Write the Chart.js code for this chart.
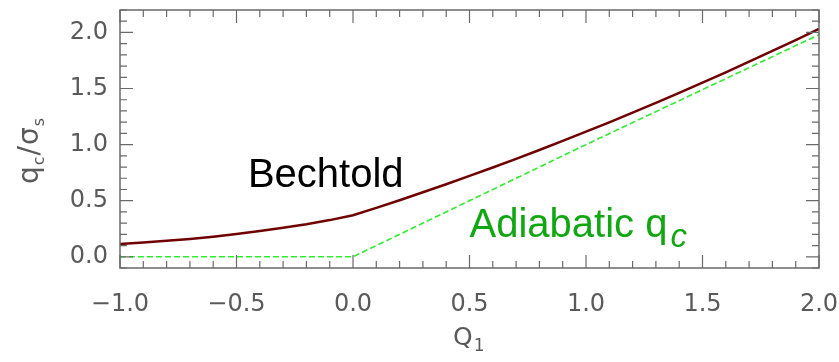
<!DOCTYPE html>
<html lang="en">
<head>
    <meta charset="UTF-8">
    <title>Bechtold vs adiabatic q_c</title>
    <script src="https://cdn.jsdelivr.net/npm/chart.js@4"></script>
    <style>
        html, body { margin: 0; padding: 0; background: #fff; }
        #wrap { width: 839px; height: 362px; }
    </style>
</head>
<body>
    <div id="wrap"><canvas id="qcChart" width="839" height="362"></canvas></div>

    <script>
        // Q1 values and curves
        const q1Values = [-1.0, -0.9, -0.8, -0.7, -0.6, -0.5, -0.4, -0.3, -0.2, -0.1,
                          0.0, 0.1, 0.2, 0.3, 0.4, 0.5, 0.6, 0.7, 0.8, 0.9,
                          1.0, 1.1, 1.2, 1.3, 1.4, 1.5, 1.6, 1.7, 1.8, 1.9, 2.0];
        const bechtoldValues = [0.115, 0.127, 0.142, 0.159, 0.179, 0.203, 0.229, 0.258, 0.290, 0.327,
                                0.370, 0.436, 0.504, 0.575, 0.647, 0.721, 0.796, 0.873, 0.952, 1.033,
                                1.115, 1.199, 1.285, 1.372, 1.461, 1.552, 1.644, 1.739, 1.835, 1.932, 2.032];
        const adiabaticQ1 = [-1.0, 0.0, 1.0, 2.0];
        const adiabaticValues = [0.0, 0.0, 1.0, 1.98];

        const xTickValues = [-1.0, -0.5, 0.0, 0.5, 1.0, 1.5, 2.0];
        const yTickValues = [0.0, 0.5, 1.0, 1.5, 2.0];

        const axisGray = '#5a5a5a';
        const tickFont = { family: 'DejaVu Sans', size: 24 };

        function fmt(v) {
            return v.toFixed(1).replace('-', '\u2212');
        }

        // inward ticks on all four sides, frame, axis titles and annotations
        const decorations = {
            id: 'decorations',
            afterDraw(chart) {
                const { ctx, chartArea: a, scales: { x, y } } = chart;
                ctx.save();
                ctx.strokeStyle = '#6a6a6a';
                ctx.lineWidth = 1.5;
                ctx.strokeRect(a.left, a.top, a.right - a.left, a.bottom - a.top);

                ctx.lineWidth = 1.2;
                ctx.beginPath();
                for (let i = -10; i <= 20; i++) {
                    const px = x.getPixelForValue(i / 10);
                    const len = i % 5 === 0 ? 13 : 7;
                    ctx.moveTo(px, a.bottom); ctx.lineTo(px, a.bottom - len);
                    ctx.moveTo(px, a.top); ctx.lineTo(px, a.top + len);
                }
                for (let i = -1; i <= 22; i++) {
                    const py = y.getPixelForValue(i / 10);
                    const len = i % 5 === 0 ? 13 : 7;
                    ctx.moveTo(a.left, py); ctx.lineTo(a.left + len, py);
                    ctx.moveTo(a.right, py); ctx.lineTo(a.right - len, py);
                }
                ctx.stroke();

                // y title: q_c / sigma_s
                ctx.fillStyle = axisGray;
                ctx.textBaseline = 'alphabetic';
                ctx.translate(38, 184);
                ctx.rotate(-Math.PI / 2);
                let cx = 0;
                const part = (txt, size, dy) => {
                    ctx.font = size + 'px "DejaVu Sans"';
                    ctx.fillText(txt, cx, dy);
                    cx += ctx.measureText(txt).width + 1;
                };
                part('q', 28, 0);
                part('c', 16, 6);
                part('/', 28, 0);
                part('\u03c3', 28, 0);
                part('s', 16, 6);
                ctx.setTransform(1, 0, 0, 1, 0, 0);

                // x title: Q_1
                cx = 453;
                const partX = (txt, size, dy) => {
                    ctx.font = size + 'px "DejaVu Sans"';
                    ctx.fillText(txt, cx, 345 + dy);
                    cx += ctx.measureText(txt).width + 1;
                };
                partX('Q', 25, 0);
                partX('1', 17, 6);

                // curve labels
                ctx.fillStyle = '#000';
                ctx.font = '40px "Liberation Sans"';
                ctx.fillText('Bechtold', x.getPixelForValue(-0.451), y.getPixelForValue(0.625));

                ctx.fillStyle = '#10a810';
                const ax = x.getPixelForValue(0.5), ay = y.getPixelForValue(0.18);
                ctx.fillText('Adiabatic q', ax, ay);
                const w = ctx.measureText('Adiabatic q').width;
                ctx.font = 'italic 33px "Liberation Sans"';
                ctx.fillText('c', ax + w + 3, ay + 10);
                ctx.restore();
            }
        };

        new Chart(document.getElementById('qcChart'), {
            type: 'line',
            data: {
                datasets: [
                    {
                        label: 'Bechtold',
                        data: q1Values.map((q, i) => ({ x: q, y: bechtoldValues[i] })),
                        borderColor: '#700000',
                        borderWidth: 2.5,
                        pointRadius: 0,
                        tension: 0,
                        fill: false,
                    },
                    {
                        label: 'Adiabatic',
                        data: adiabaticQ1.map((q, i) => ({ x: q, y: adiabaticValues[i] })),
                        borderColor: '#2cf02c',
                        borderWidth: 1.6,
                        borderDash: [6, 3],
                        pointRadius: 0,
                        tension: 0,
                        fill: false,
                    }
                ]
            },
            options: {
                responsive: false,
                animation: false,
                layout: { padding: { top: 10, right: 20, left: 0, bottom: 0 } },
                plugins: { legend: { display: false }, tooltip: { enabled: false } },
                scales: {
                    x: {
                        type: 'linear',
                        min: -1, max: 2,
                        afterBuildTicks: s => { s.ticks = xTickValues.map(v => ({ value: v })); },
                        afterFit: s => { s.height = 94; s.paddingLeft = 0; s.paddingRight = 0; },
                        grid: { display: false, drawTicks: false },
                        border: { display: false },
                        ticks: { font: tickFont, color: axisGray, padding: 22, maxRotation: 0, callback: v => fmt(v) },
                    },
                    y: {
                        type: 'linear',
                        min: -0.1, max: 2.2,
                        afterBuildTicks: s => { s.ticks = yTickValues.map(v => ({ value: v })); },
                        afterFit: s => { s.width = 120; s.paddingTop = 0; s.paddingBottom = 0; },
                        grid: { display: false, drawTicks: false },
                        border: { display: false },
                        ticks: { font: tickFont, color: axisGray, padding: 12, callback: v => fmt(v) },
                    }
                }
            },
            plugins: [decorations]
        });
    </script>
</body>
</html>
